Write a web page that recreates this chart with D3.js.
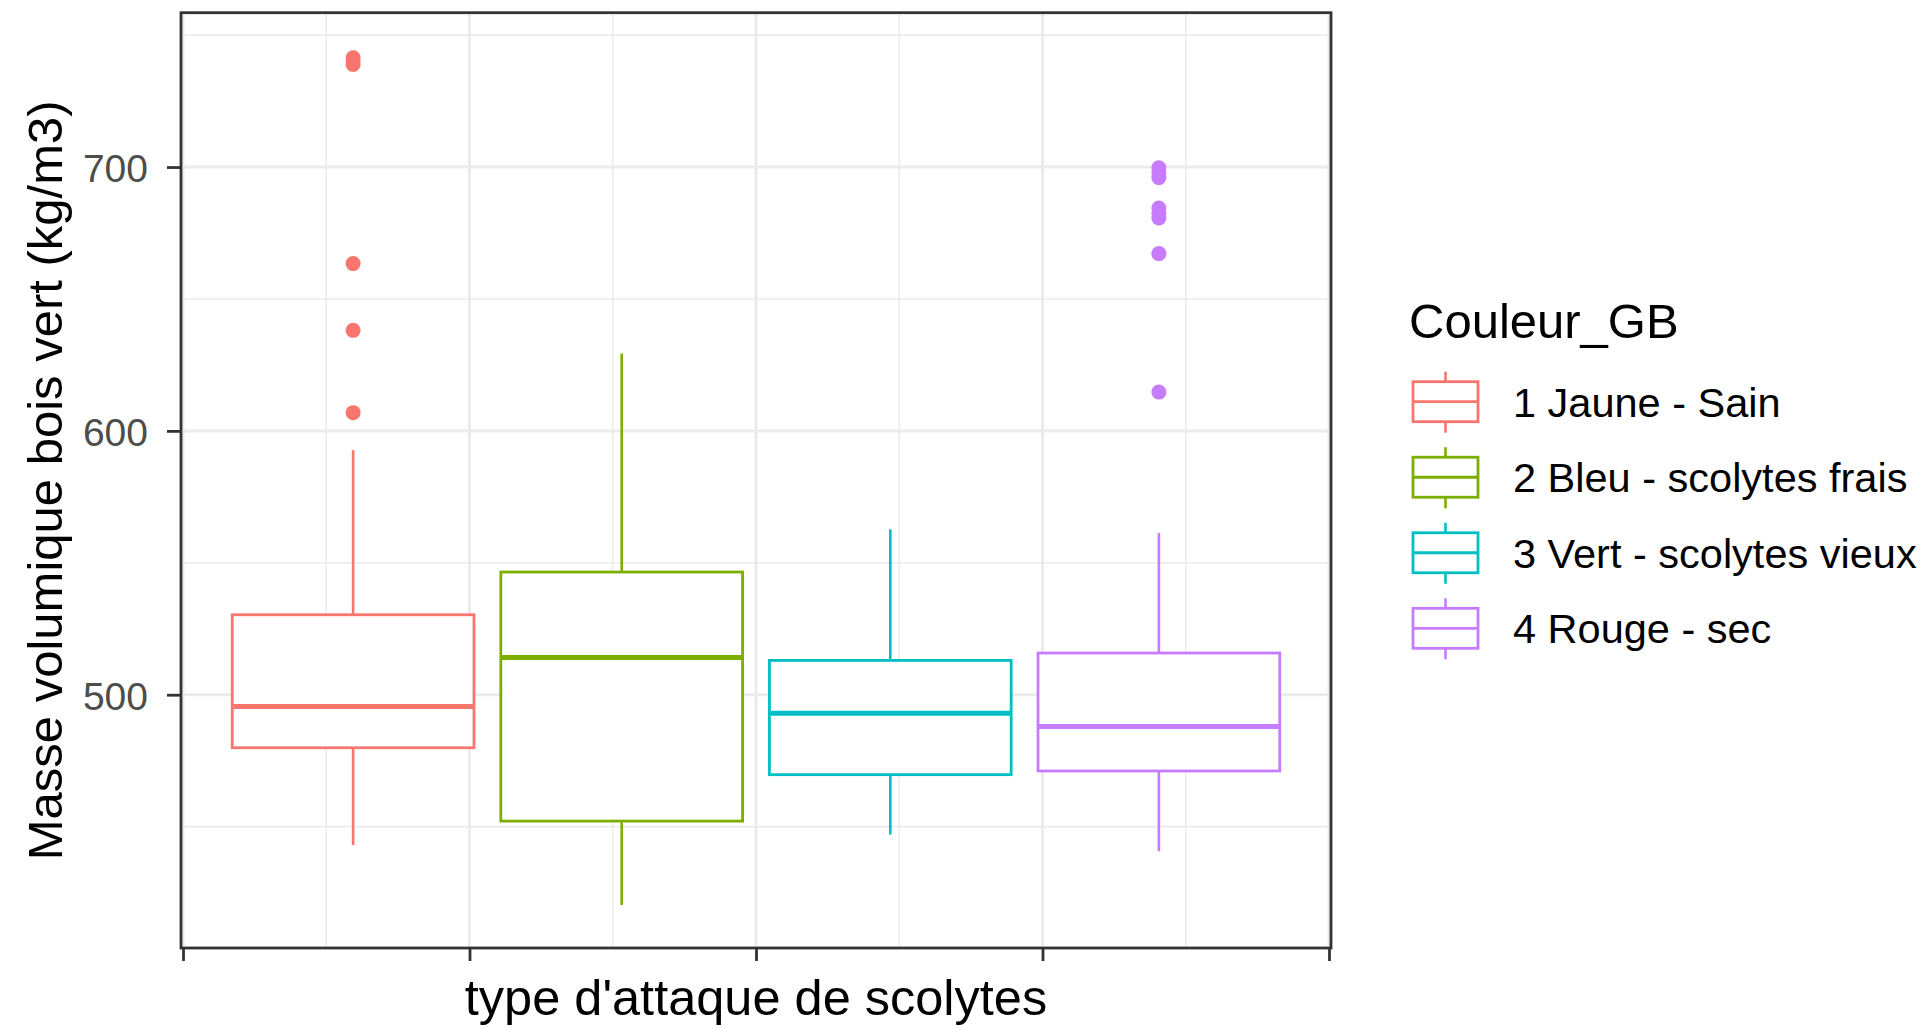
<!DOCTYPE html>
<html>
<head>
<meta charset="utf-8">
<script src="https://cdn.jsdelivr.net/npm/d3@7"></script>
<style>
  html, body { margin: 0; padding: 0; background: #ffffff; }
  svg { display: block; }
  text { font-family: "Liberation Sans", Arial, sans-serif; }
</style>
</head>
<body>
<svg id="chart" width="1924" height="1028"></svg>
<script>
// ---- data ----
const categories = ["1 Jaune - Sain", "2 Bleu - scolytes frais", "3 Vert - scolytes vieux", "4 Rouge - sec"];
const colors = ["#F8766D", "#7CAE00", "#00BFC4", "#C77CFF"];
const whiskerLow = [443, 420.3, 447, 440.7];
const q1 = [479.9, 452.1, 469.7, 471.1];
const median = [495.5, 514.1, 493, 488];
const q3 = [530.3, 546.5, 513, 515.8];
const whiskerHigh = [592.7, 629.3, 562.7, 561.3];
const outliers = [
  [741.4, 740.1, 738.9, 663.4, 638.1, 606.9],
  [],
  [],
  [699.7, 698, 696, 684.5, 682.6, 680.7, 667.2, 614.7]
];
const yTicks = [500, 600, 700];
const yMinor = [450, 550, 650, 750];
const xTicks = [-0.4, -0.2, 0, 0.2, 0.4];
const xMinor = [-0.3, -0.1, 0.1, 0.3];
const yTitle = "Masse volumique bois vert (kg/m3)";
const xTitle = "type d'attaque de scolytes";
const legendTitle = "Couleur_GB";

// ---- layout ----
const svg = d3.select("#chart");
const P = { left: 181, right: 1331, top: 12.7, bottom: 948 };

const x = d3.scaleLinear().domain([-0.4014, 0.4014]).range([P.left, P.right]);
const y = d3.scaleLinear().domain([404, 758.5]).range([P.bottom, P.top]);
const dodge = d3.scaleBand().domain(categories)
  .range([x(-0.375), x(0.375)]).paddingInner(0.1).paddingOuter(0.05);
const color = d3.scaleOrdinal().domain(categories).range(colors);

svg.append("rect").attr("width", 1924).attr("height", 1028).attr("fill", "#fff");

const g = svg.append("g");
// grid
g.selectAll(".ymin").data(yMinor).join("line")
  .attr("x1", P.left).attr("x2", P.right)
  .attr("y1", d => y(d)).attr("y2", d => y(d))
  .attr("stroke", "#EBEBEB").attr("stroke-width", 1.6);
g.selectAll(".xmin").data(xMinor).join("line")
  .attr("y1", P.top).attr("y2", P.bottom)
  .attr("x1", d => x(d)).attr("x2", d => x(d))
  .attr("stroke", "#EBEBEB").attr("stroke-width", 1.6);
g.selectAll(".ymaj").data(yTicks).join("line")
  .attr("x1", P.left).attr("x2", P.right)
  .attr("y1", d => y(d)).attr("y2", d => y(d))
  .attr("stroke", "#EBEBEB").attr("stroke-width", 3);
g.selectAll(".xmaj").data(xTicks).join("line")
  .attr("y1", P.top).attr("y2", P.bottom)
  .attr("x1", d => x(d)).attr("x2", d => x(d))
  .attr("stroke", "#EBEBEB").attr("stroke-width", 3);

// boxes
const data = categories.map((c, i) => ({
  c, i, lo: whiskerLow[i], q1: q1[i], med: median[i], q3: q3[i], hi: whiskerHigh[i], out: outliers[i]
}));
const bw = dodge.bandwidth();
const boxes = g.selectAll(".box").data(data).join("g");
boxes.append("line")
  .attr("x1", d => dodge(d.c) + bw / 2).attr("x2", d => dodge(d.c) + bw / 2)
  .attr("y1", d => y(d.q3)).attr("y2", d => y(d.hi))
  .attr("stroke", d => color(d.c)).attr("stroke-width", 2.6);
boxes.append("line")
  .attr("x1", d => dodge(d.c) + bw / 2).attr("x2", d => dodge(d.c) + bw / 2)
  .attr("y1", d => y(d.q1)).attr("y2", d => y(d.lo))
  .attr("stroke", d => color(d.c)).attr("stroke-width", 2.6);
boxes.append("rect")
  .attr("x", d => dodge(d.c)).attr("width", bw)
  .attr("y", d => y(d.q3)).attr("height", d => y(d.q1) - y(d.q3))
  .attr("fill", "#fff").attr("stroke", d => color(d.c)).attr("stroke-width", 2.8);
boxes.append("line")
  .attr("x1", d => dodge(d.c)).attr("x2", d => dodge(d.c) + bw)
  .attr("y1", d => y(d.med)).attr("y2", d => y(d.med))
  .attr("stroke", d => color(d.c)).attr("stroke-width", 5);
boxes.each(function (d) {
  d3.select(this).selectAll("circle").data(d.out).join("circle")
    .attr("cx", dodge(d.c) + bw / 2).attr("cy", v => y(v)).attr("r", 7.5)
    .attr("fill", color(d.c));
});

// panel border
svg.append("rect")
  .attr("x", P.left).attr("y", P.top)
  .attr("width", P.right - P.left).attr("height", P.bottom - P.top)
  .attr("fill", "none").attr("stroke", "#333333").attr("stroke-width", 2.8);

// axes
const yAxis = svg.append("g").attr("transform", `translate(${P.left},0)`)
  .call(d3.axisLeft(y).tickValues(yTicks).tickSize(14).tickPadding(19).tickFormat(d3.format("d")));
yAxis.select(".domain").remove();
yAxis.selectAll(".tick line").attr("stroke", "#333333").attr("stroke-width", 2.8);
yAxis.selectAll(".tick text").attr("fill", "#4D4D4D").attr("dy", "0.38em").style("font-size", "39px")
  .style("font-family", "'Liberation Sans', Arial, sans-serif");

const xAxis = svg.append("g").attr("transform", `translate(0,${P.bottom})`)
  .call(d3.axisBottom(x).tickValues(xTicks).tickSize(13).tickFormat(() => ""));
xAxis.select(".domain").remove();
xAxis.selectAll(".tick line").attr("stroke", "#333333").attr("stroke-width", 2.8);

// titles
svg.append("text").attr("x", (P.left + P.right) / 2).attr("y", 1015)
  .attr("text-anchor", "middle").attr("fill", "#000").style("font-size", "50.5px").text(xTitle);
svg.append("text").attr("transform", `translate(62,${(P.top + P.bottom) / 2}) rotate(-90)`)
  .attr("text-anchor", "middle").attr("fill", "#000").style("font-size", "49px").text(yTitle);

// legend
const lg = svg.append("g");
lg.append("text").attr("x", 1409).attr("y", 338).attr("fill", "#000")
  .style("font-size", "49px").text(legendTitle);
const legY = d3.scalePoint().domain(categories).range([401.7, 628.3]);
const items = lg.selectAll(".item").data(data).join("g")
  .attr("transform", d => `translate(1413,${legY(d.c)})`);
items.append("line").attr("x1", 32.5).attr("x2", 32.5).attr("y1", -30).attr("y2", 31)
  .attr("stroke", d => color(d.c)).attr("stroke-width", 2.6);
items.append("rect").attr("x", 0).attr("y", -20).attr("width", 65).attr("height", 40)
  .attr("fill", "#fff").attr("stroke", d => color(d.c)).attr("stroke-width", 2.8);
items.append("line").attr("x1", 0).attr("x2", 65).attr("y1", 0).attr("y2", 0)
  .attr("stroke", d => color(d.c)).attr("stroke-width", 2.8);
items.append("text").attr("x", 100).attr("y", 15).attr("fill", "#000")
  .style("font-size", "41.5px").text(d => d.c);
</script>
</body>
</html>
